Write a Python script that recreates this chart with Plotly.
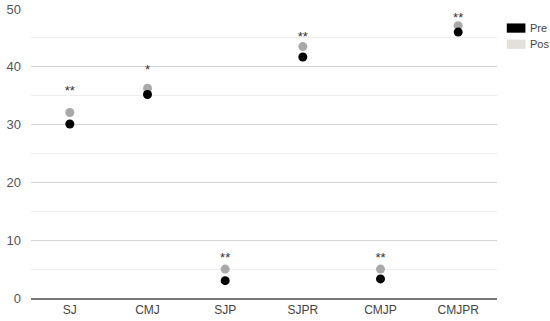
import plotly.graph_objects as go

categories = ["SJ", "CMJ", "SJP", "SJPR", "CMJP", "CMJPR"]
pre = [30.1, 35.2, 3.0, 41.7, 3.3, 46.0]
pos = [32.1, 36.3, 5.0, 43.5, 5.0, 47.1]
sig_labels = ["**", "*", "**", "**", "**", "**"]
sig_y = [35.6, 39.4, 6.8, 45.0, 6.8, 48.3]
legend_names = ["Pre", "Pos"]
legend_colors = ["#000000", "#e3e0dc"]
point_colors = ["#000000", "#a9a9a9"]

fig = go.Figure()
fig.add_trace(go.Scatter(x=categories, y=pos, mode="markers", name="Pos",
                         marker=dict(color=point_colors[1], size=9), showlegend=False))
fig.add_trace(go.Scatter(x=categories, y=pre, mode="markers", name="Pre",
                         marker=dict(color=point_colors[0], size=9), showlegend=False))
fig.add_trace(go.Scatter(x=categories, y=sig_y, mode="text", text=sig_labels,
                         textfont=dict(size=13, color="#333333", family="Arial, Liberation Sans"),
                         showlegend=False))

# legend drawn manually
for i, (nm, col) in enumerate(zip(legend_names, legend_colors)):
    y0 = 0.95 - i * 0.056
    fig.add_shape(type="rect", xref="paper", yref="paper",
                  x0=1.021, x1=1.061, y0=y0 - 0.032, y1=y0, fillcolor=col, line=dict(width=0))
    fig.add_annotation(xref="paper", yref="paper", x=1.066, y=y0 - 0.016, text=nm,
                       showarrow=False, xanchor="left", yanchor="middle",
                       font=dict(size=11, color="#444444", family="Arial, Liberation Sans"))

fig.update_layout(
    width=550, height=321,
    margin=dict(l=31, r=53, t=9, b=23, autoexpand=False),
    plot_bgcolor="white", paper_bgcolor="white",
    font=dict(family="Arial, Liberation Sans", size=12, color="#444444"),
    xaxis=dict(type="category", range=[-0.5, len(categories) - 0.5],
               showgrid=False, showline=True, linecolor="#777777",
               linewidth=1.5, ticks="", automargin=False,
               tickfont=dict(size=12, color="#444444")),
    yaxis=dict(range=[0, 50], dtick=10, showgrid=True, gridcolor="#d4d4d4", gridwidth=1,
               zeroline=False, showline=False, ticks="", automargin=False,
               minor=dict(dtick=5, showgrid=True, gridcolor="#eeeeee", gridwidth=1),
               tickfont=dict(size=13, color="#555555"), ticklabelstandoff=9),
)

fig.write_html("out.html", config={"displayModeBar": False},
               post_script="document.body.style.margin='0';")
